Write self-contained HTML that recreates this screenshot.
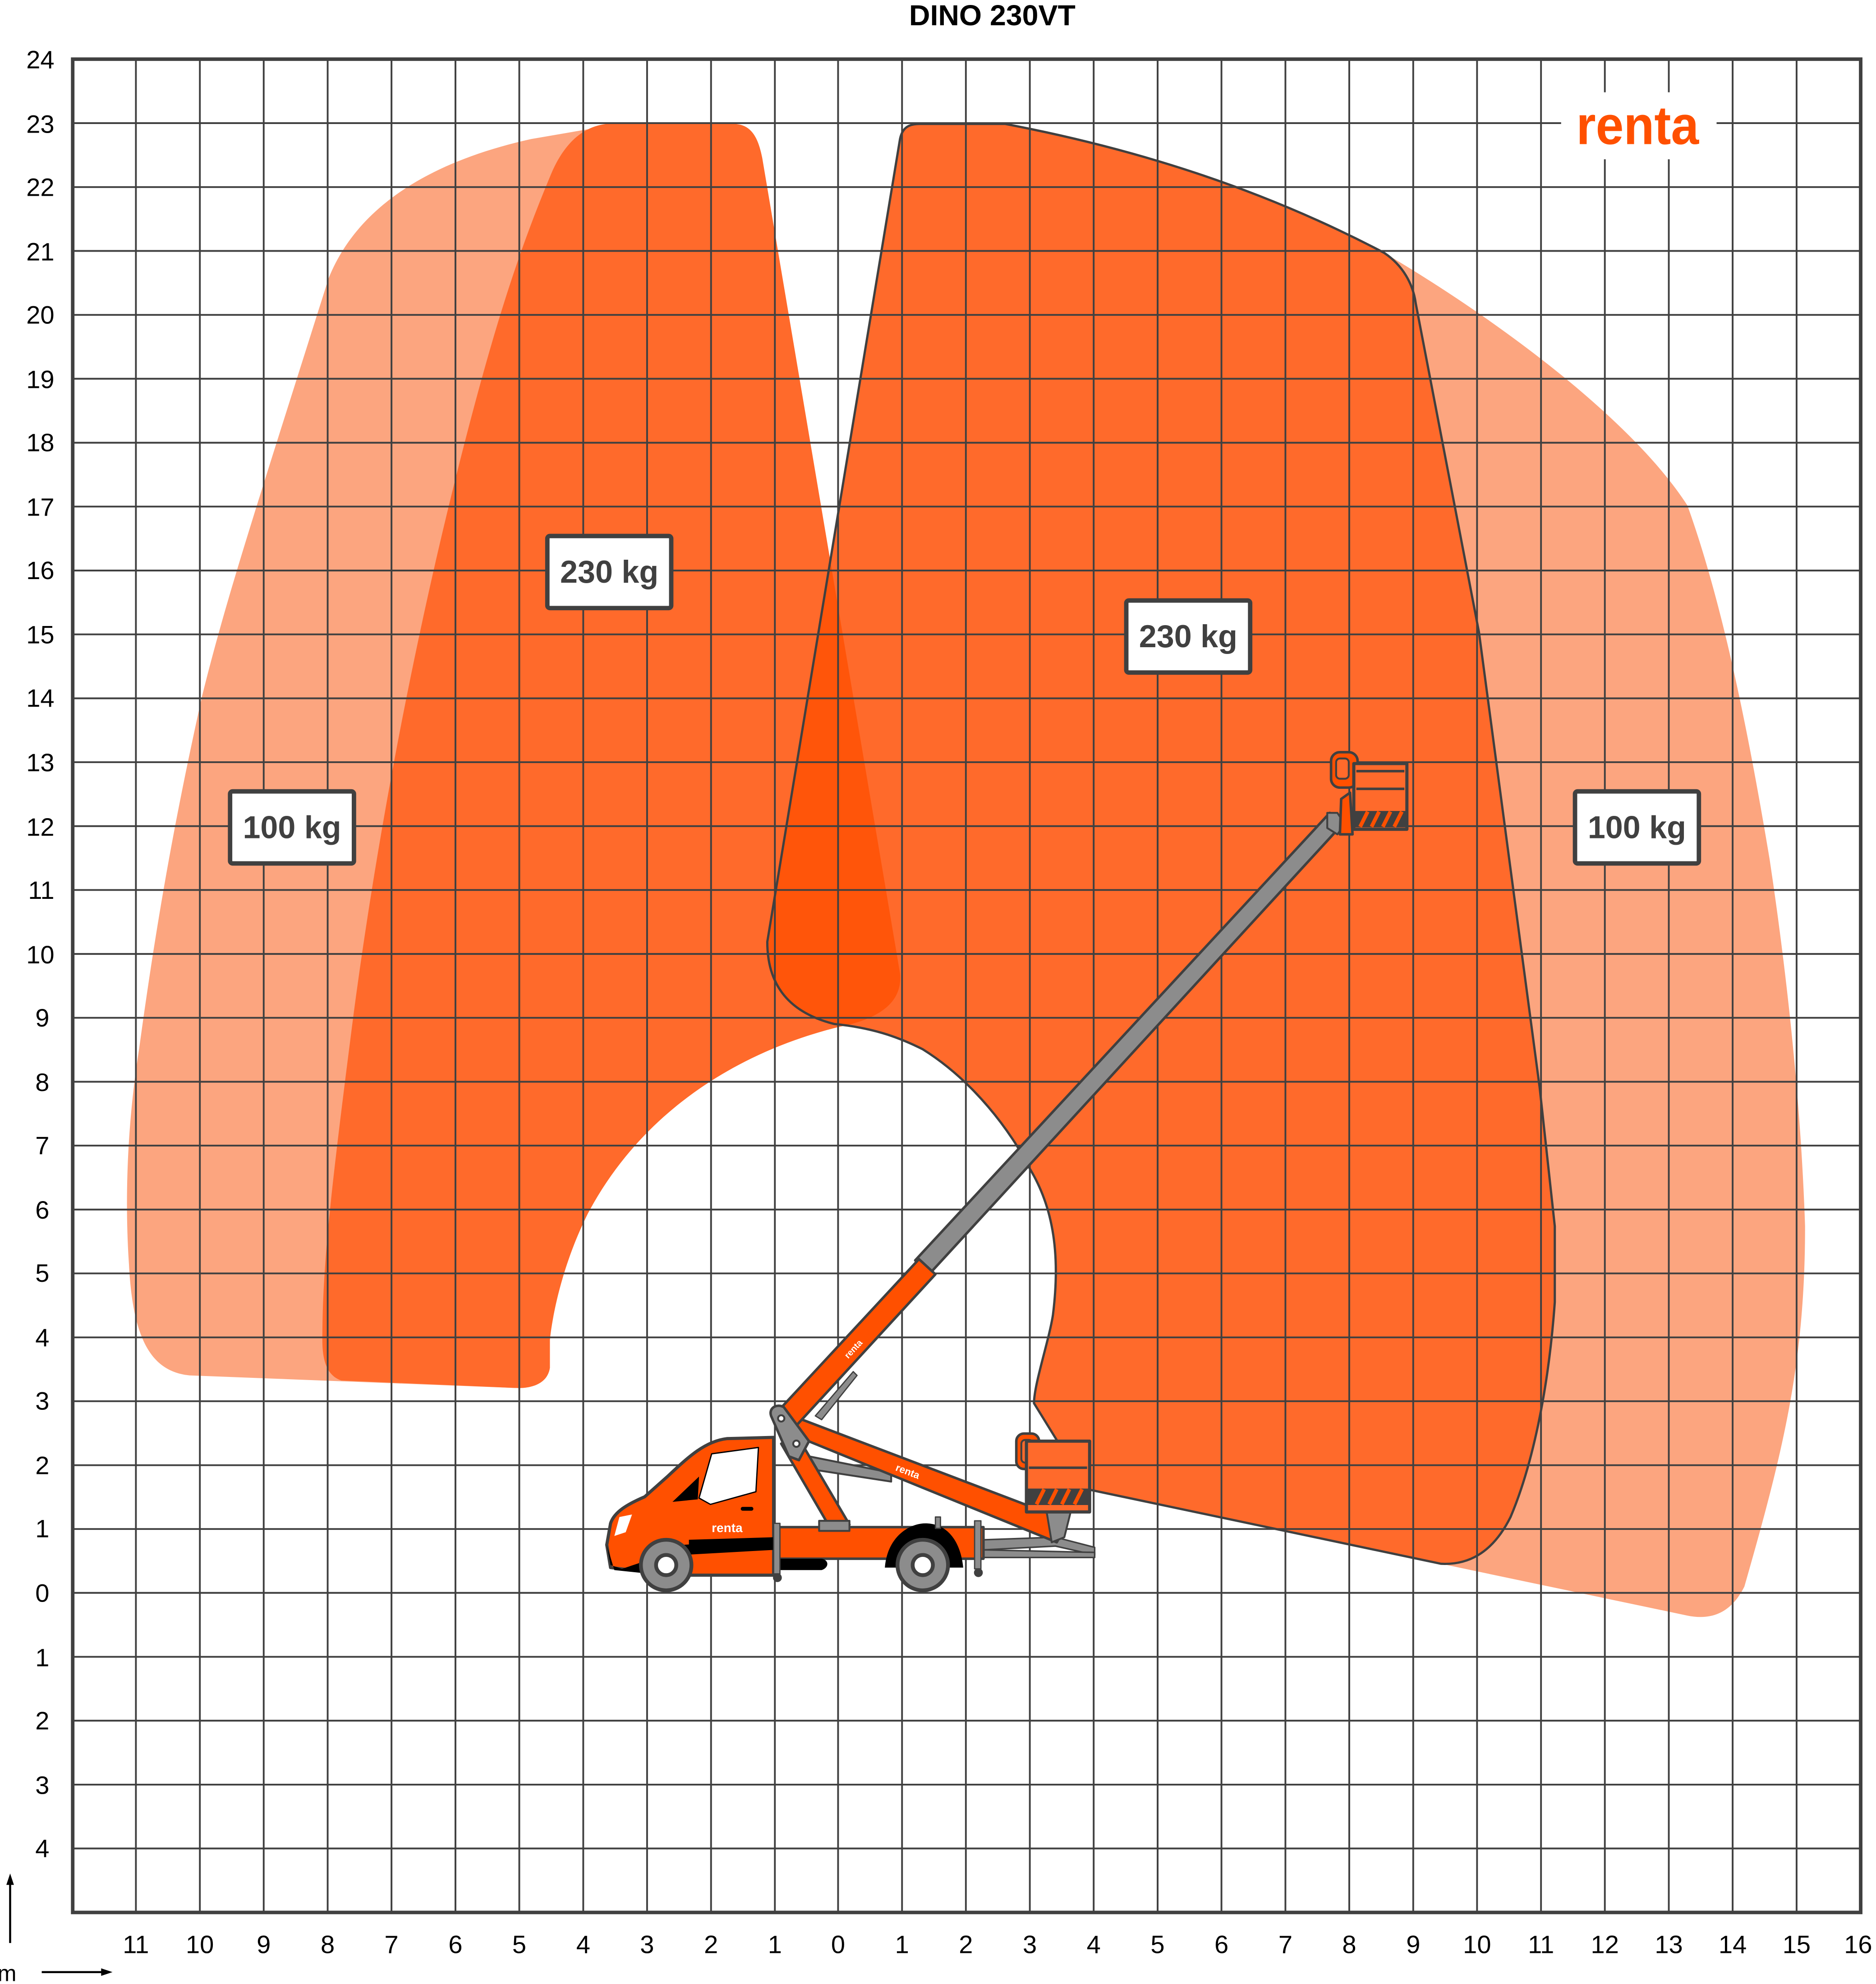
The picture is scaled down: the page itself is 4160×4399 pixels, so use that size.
<!DOCTYPE html>
<html><head><meta charset="utf-8"><style>html,body{margin:0;padding:0;background:#fff}svg{display:block}</style></head>
<body>
<svg width="4160" height="4399" viewBox="0 0 1484.1 1569.4" xmlns="http://www.w3.org/2000/svg" font-family="Liberation Sans, Arial, sans-serif">
<defs>
<clipPath id="cr"><path d="M712,110 C714,100 720,98 728,98 L795,98 C900,118 1000,150 1095,200 C1110,210 1118,225 1120,240 L1170,500 L1218,860 L1230,970 L1230,1030 C1225,1100 1212,1160 1195,1200 C1180,1230 1160,1238 1140,1237 L860,1178 L818,1110 C818,1095 830,1060 833,1040 C838,1000 836,960 815,925 C800,895 770,855 730,830 C710,820 690,813 660,810 C620,800 607,775 607,745 Z"/></clipPath>
</defs>
<rect width="1484.1" height="1569.4" fill="#fff"/>
<path d="M1095,200 C1180,250 1290,330 1335,400 C1360,470 1380,560 1400,680 C1415,780 1425,880 1428,970 C1428,1080 1410,1150 1380,1255 C1370,1275 1355,1282 1335,1278 L1140,1237 L1000,1100 L1000,250 Z" fill="#fca57f"/>
<path id="ll" d="M150,1088 C120,1085 105,1060 102,1000 C98,940 102,880 110,830 C125,720 140,640 160,550 C180,470 200,410 260,220 C280,170 330,130 420,110 L490,98 L580,98 C595,98 600,110 603,125 L712,770 C714,790 700,805 665,812 C590,830 510,875 465,960 C445,1000 437,1040 435,1060 L435,1082 C433,1095 420,1098 410,1098 Z" fill="#fca57f"/>
<path d="M270,1092 C258,1088 255,1075 255,1060 C255,1000 262,940 280,800 C300,650 330,500 360,380 C390,260 410,200 435,140 C445,115 460,100 480,98 L580,98 C595,98 600,110 603,125 L712,770 C714,790 700,805 665,812 C590,830 510,875 465,960 C445,1000 437,1040 435,1060 L435,1082 C433,1095 420,1098 410,1098 Z" fill="#ff6a2b"/>
<path d="M712,110 C714,100 720,98 728,98 L795,98 C900,118 1000,150 1095,200 C1110,210 1118,225 1120,240 L1170,500 L1218,860 L1230,970 L1230,1030 C1225,1100 1212,1160 1195,1200 C1180,1230 1160,1238 1140,1237 L860,1178 L818,1110 C818,1095 830,1060 833,1040 C838,1000 836,960 815,925 C800,895 770,855 730,830 C710,820 690,813 660,810 C620,800 607,775 607,745 Z" fill="#ff6a2b"/>
<g clip-path="url(#cr)"><path d="M150,1088 L102,1000 L110,830 L260,220 L490,98 L580,98 C595,98 600,110 603,125 L712,770 C714,790 700,805 665,812 L410,1098 Z" fill="#ff550a"/></g>
<g stroke="#404040" stroke-width="1.4">
<path d="M107.5,47V1513M158.1,47V1513M208.6,47V1513M259.2,47V1513M309.7,47V1513M360.3,47V1513M410.8,47V1513M461.4,47V1513M511.9,47V1513M562.5,47V1513M613,47V1513M663,47V1513M713.6,47V1513M764.1,47V1513M814.7,47V1513M865.2,47V1513M915.8,47V1513M966.3,47V1513M1016.9,47V1513M1067.4,47V1513M1118,47V1513M1168.5,47V1513M1219.1,47V1513M1269.6,47V1513M1320.2,47V1513M1370.7,47V1513M1421.3,47V1513"/>
<path d="M57,97.4H1472M57,148H1472M57,198.5H1472M57,249.1H1472M57,299.6H1472M57,350.2H1472M57,400.7H1472M57,451.3H1472M57,501.8H1472M57,552.4H1472M57,602.9H1472M57,653.5H1472M57,704H1472M57,754.6H1472M57,805.1H1472M57,855.7H1472M57,906.2H1472M57,956.8H1472M57,1007.3H1472M57,1057.9H1472M57,1108.4H1472M57,1159H1472M57,1209.5H1472M57,1260H1472M57,1310.6H1472M57,1361.1H1472M57,1411.7H1472M57,1462.2H1472"/>
</g>
<rect x="57.5" y="46.8" width="1414.5" height="1466" fill="none" stroke="#404040" stroke-width="2.8"/>
<path d="M712,110 C714,100 720,98 728,98 L795,98 C900,118 1000,150 1095,200 C1110,210 1118,225 1120,240 L1170,500 L1218,860 L1230,970 L1230,1030 C1225,1100 1212,1160 1195,1200 C1180,1230 1160,1238 1140,1237 L860,1178 L818,1110 C818,1095 830,1060 833,1040 C838,1000 836,960 815,925 C800,895 770,855 730,830 C710,820 690,813 660,810 C620,800 607,775 607,745 L712,110" fill="none" stroke="#404040" stroke-width="1.8"/>
<rect x="1235" y="73" width="123" height="53" fill="#fff"/>
<text x="1247" y="114" font-size="43" font-weight="bold" fill="#ff5000" textLength="97" lengthAdjust="spacingAndGlyphs">renta</text>
<g font-size="25" font-weight="bold" fill="#404040" text-anchor="middle">
<rect x="433" y="424" width="98" height="57" rx="2" fill="#fff" stroke="#404040" stroke-width="3.5"/><text x="482" y="461">230 kg</text>
<rect x="891" y="475" width="98" height="57" rx="2" fill="#fff" stroke="#404040" stroke-width="3.5"/><text x="940" y="512">230 kg</text>
<rect x="182" y="626" width="98" height="57" rx="2" fill="#fff" stroke="#404040" stroke-width="3.5"/><text x="231" y="663">100 kg</text>
<rect x="1246" y="626" width="98" height="57" rx="2" fill="#fff" stroke="#404040" stroke-width="3.5"/><text x="1295" y="663">100 kg</text>
</g>
<text x="785" y="20" font-size="23" font-weight="bold" text-anchor="middle" fill="#000">DINO 230VT</text>
<g font-size="20" text-anchor="end" fill="#000">
<text x="43" y="54">24</text><text x="43" y="105">23</text><text x="43" y="155">22</text><text x="43" y="206">21</text><text x="43" y="256">20</text><text x="43" y="307">19</text><text x="43" y="357">18</text><text x="43" y="408">17</text><text x="43" y="458">16</text><text x="43" y="509">15</text><text x="43" y="559">14</text><text x="43" y="610">13</text><text x="43" y="661">12</text><text x="43" y="711">11</text><text x="43" y="762">10</text><text x="39" y="812">9</text><text x="39" y="863">8</text><text x="39" y="913">7</text><text x="39" y="964">6</text><text x="39" y="1014">5</text><text x="39" y="1065">4</text><text x="39" y="1115">3</text><text x="39" y="1166">2</text><text x="39" y="1216">1</text><text x="39" y="1267">0</text><text x="39" y="1318">1</text><text x="39" y="1368">2</text><text x="39" y="1419">3</text><text x="39" y="1469">4</text>
</g>
<g font-size="20" text-anchor="middle" fill="#000">
<text x="107.5" y="1545">11</text><text x="158.1" y="1545">10</text><text x="208.6" y="1545">9</text><text x="259.2" y="1545">8</text><text x="309.7" y="1545">7</text><text x="360.3" y="1545">6</text><text x="410.8" y="1545">5</text><text x="461.4" y="1545">4</text><text x="511.9" y="1545">3</text><text x="562.5" y="1545">2</text><text x="613" y="1545">1</text><text x="663" y="1545">0</text><text x="713.6" y="1545">1</text><text x="764.1" y="1545">2</text><text x="814.7" y="1545">3</text><text x="865.2" y="1545">4</text><text x="915.8" y="1545">5</text><text x="966.3" y="1545">6</text><text x="1016.9" y="1545">7</text><text x="1067.4" y="1545">8</text><text x="1118" y="1545">9</text><text x="1168.5" y="1545">10</text><text x="1219.1" y="1545">11</text><text x="1269.6" y="1545">12</text><text x="1320.2" y="1545">13</text><text x="1370.7" y="1545">14</text><text x="1421.3" y="1545">15</text><text x="1470" y="1545">16</text>
</g>
<g stroke="#000" stroke-width="1.6" fill="#000">
<line x1="8" y1="1537" x2="8" y2="1488"/><path d="M8,1482 L5,1491 L11,1491 Z" stroke="none"/>
<line x1="33" y1="1560" x2="82" y2="1560"/><path d="M89,1560 L80,1557 L80,1563 Z" stroke="none"/>
</g>
<text x="-2" y="1567" font-size="18" fill="#000">m</text>
<g stroke="#404040" stroke-linejoin="round">
<path d="M778,1218 L835,1216 L866,1224 L866,1230 L835,1223 L778,1226 Z" fill="#8c8c8c" stroke-width="1.2"/>
<path d="M778,1226 L866,1228 L866,1232 L778,1232 Z" fill="#8c8c8c" stroke-width="1.2"/>
<path d="M640,1152 L705,1165 L705,1172 L640,1162 Z" fill="#8c8c8c" stroke-width="1.5"/>
<rect x="612" y="1208" width="166" height="25" fill="#ff5000" stroke-width="2"/>
<path d="M612,1233 L612,1242 L650,1242 C656,1240 656,1234 650,1233 Z" fill="#000" stroke="none"/>
<path d="M700,1240 C702,1215 720,1205 732,1205 C750,1205 760,1220 762,1240" fill="#000" stroke="none"/>
<path d="M618,1142 L632,1138 L672,1206 L657,1209 Z" fill="#ff5000" stroke-width="2"/>
<rect x="648" y="1203" width="24" height="8" fill="#8c8c8c" stroke-width="1.5"/>
<path d="M615,1130 L632,1122 L845,1203 L836,1220 Z" fill="#ff5000" stroke-width="2"/>
<text x="0" y="0" font-size="8" font-weight="bold" fill="#fff" stroke="none" transform="translate(708,1163) rotate(21)">renta</text>
<path d="M828,1196 L847,1196 L842,1216 L832,1220 Z" fill="#8c8c8c" stroke-width="1.5"/>
<rect x="804" y="1134" width="18" height="28" rx="6" fill="#ff5000" stroke-width="2"/>
<rect x="808" y="1139" width="9" height="18" rx="3" fill="#ff6a2b" stroke-width="1.5"/>
<rect x="812" y="1140" width="50" height="56" fill="#ff6a2b" stroke-width="2.5"/>
<line x1="814" y1="1161" x2="860" y2="1161" stroke-width="2"/>
<rect x="812" y="1178" width="50" height="12" fill="#404040" stroke-width="1"/>
<path d="M820,1190 L826,1178 M830,1190 L836,1178 M840,1190 L846,1178 M850,1190 L856,1178" stroke="#ff5000" stroke-width="3"/>
<path d="M724,997 L1052,643 L1062,652 L735,1008 Z" fill="#8c8c8c" stroke-width="2"/>
<path d="M612,1120 L727,996 L740,1008 L626,1132 Z" fill="#ff5000" stroke-width="2"/>
<path d="M645,1120 L675,1085 L678,1088 L650,1123 Z" fill="#8c8c8c" stroke-width="1"/>
<text x="0" y="0" font-size="7" font-weight="bold" fill="#fff" stroke="none" transform="translate(671,1075) rotate(-47)">renta</text>
<path d="M610,1120 C608,1114 614,1110 620,1113 L640,1140 L632,1155 L624,1152 Z" fill="#8c8c8c" stroke-width="2"/>
<circle cx="618" cy="1122" r="2.5" fill="#fff" stroke-width="1.5"/><circle cx="630" cy="1142" r="2.5" fill="#fff" stroke-width="1.5"/>
<path d="M1050,643 L1058,643 L1064,652 L1058,660 L1050,655 Z" fill="#8c8c8c" stroke-width="1.5"/>
<path d="M1061,632 L1068,627 L1070,660 L1060,660 Z" fill="#ff5000" stroke-width="2"/>
<rect x="1053" y="595" width="21" height="28" rx="7" fill="#ff5000" stroke-width="2"/>
<rect x="1057" y="600" width="10" height="16" rx="3" fill="#ff6a2b" stroke-width="1.5"/>
<rect x="1071" y="604" width="42" height="52" fill="#ff6a2b" stroke-width="2.5"/>
<line x1="1073" y1="610" x2="1111" y2="610" stroke-width="2"/>
<line x1="1073" y1="624" x2="1111" y2="624" stroke-width="2"/>
<rect x="1071" y="642" width="42" height="12" fill="#404040" stroke-width="1"/>
<path d="M1076,654 L1082,642 M1085,654 L1091,642 M1094,654 L1100,642 M1103,654 L1109,642" stroke="#ff5000" stroke-width="3"/>
<path d="M483,1240 L480,1222 L483,1205 C486,1196 496,1190 510,1184 L528,1168 C545,1152 558,1140 575,1138 L612,1137 L612,1246 L540,1246 L500,1242 Z" fill="#ff5000" stroke-width="2.5"/>
<path d="M480,1222 L483,1238 L492,1241 L510,1235 L540,1222 L612,1218 L612,1226 L540,1230 L515,1245 L486,1242 Z" fill="#000" stroke="none"/>
<path d="M545,1218 L612,1216 L612,1226 L545,1226 Z" fill="#000" stroke="none"/>
<path d="M532,1188 L553,1168 L552,1186 Z" fill="#000" stroke="none"/>
<path d="M553,1185 L563,1150 L600,1145 L598,1180 L562,1190 Z" fill="#fff" stroke="#000" stroke-width="1"/>
<path d="M486,1215 L490,1200 L500,1198 L495,1212 Z" fill="#fff" stroke="none"/>
<rect x="586" y="1192" width="10" height="3" rx="1.5" fill="#000" stroke="none"/>
<text x="563" y="1212" font-size="10" font-weight="bold" fill="#fff" stroke="none">renta</text>
<circle cx="527" cy="1238" r="20" fill="#8c8c8c" stroke-width="3"/><circle cx="527" cy="1238" r="8" fill="#fff" stroke-width="3"/>
<circle cx="730" cy="1238" r="20" fill="#8c8c8c" stroke-width="3"/><circle cx="730" cy="1238" r="8" fill="#fff" stroke-width="3"/>
<rect x="612" y="1205" width="5" height="40" fill="#8c8c8c" stroke-width="1"/><circle cx="615" cy="1248" r="3.5" fill="#404040" stroke="none"/>
<rect x="771" y="1203" width="5" height="38" fill="#8c8c8c" stroke-width="1"/><circle cx="774" cy="1244" r="3.5" fill="#404040" stroke="none"/>
<rect x="740" y="1200" width="4" height="9" fill="#8c8c8c" stroke-width="1"/>
</g>
</svg>
</body></html>
